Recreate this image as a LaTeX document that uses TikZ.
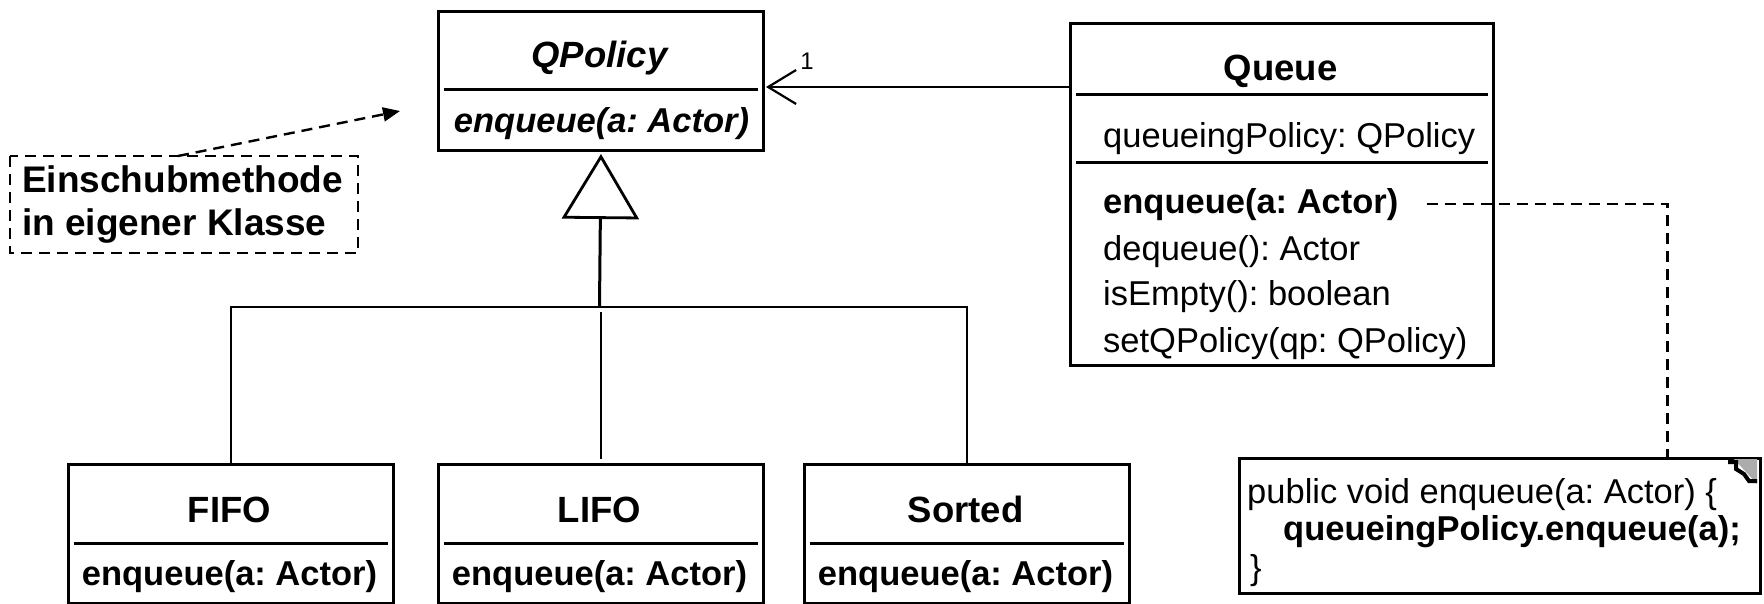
\documentclass[tikz,border=0pt]{standalone}
\usepackage{fontspec}
\setmainfont{Liberation Sans}
\usetikzlibrary{arrows.meta,calc}
\frenchspacing
\begin{document}
\begin{tikzpicture}[x=1pt,y=-1pt,
  box/.style={draw, line width=3pt, inner sep=0pt, anchor=north west},
  sepline/.style={line width=3pt},
  clsname/.style={font=\fontsize{36.5pt}{44pt}\selectfont\bfseries, anchor=base, inner sep=0pt},
  member/.style={font=\fontsize{34.5pt}{44pt}\selectfont, anchor=base west, inner sep=0pt},
  cmember/.style={font=\fontsize{34.5pt}{44pt}\selectfont\bfseries, anchor=base, inner sep=0pt},
  dashline/.style={line width=2.4pt, dash pattern=on 11pt off 7pt},
  assoc/.style={line width=2.8pt, -{Straight Barb[length=28pt,width=34pt,line width=2.2pt]}},
  inherit/.style={line width=3pt, -{Triangle[open,length=65pt,width=77pt,line width=2.8pt,fill=white]}},
  branch/.style={line width=2.4pt}
]
\useasboundingbox (0,0) rectangle (1764,603);

% abstract strategy class
\node[box, minimum width=325pt, minimum height=139pt] (qpolicy) at (437,10) {};
\draw[sepline] (444,89) -- (758,89);
\node[clsname, font=\fontsize{36.5pt}{44pt}\selectfont\bfseries\itshape] (qpolicyname) at (599.5,67) {QPolicy};
\node[cmember, font=\fontsize{34.5pt}{44pt}\selectfont\bfseries\itshape] (qpolicyop) at (601.5,132) {enqueue(a: Actor)};

% context class
\node[box, minimum width=423pt, minimum height=342pt] (queue) at (1069,22) {};
\draw[sepline] (1076,94) -- (1488,94);
\draw[sepline] (1076,162) -- (1488,162);
\node[clsname] (queuename) at (1280.5,80) {Queue};
\node[member] (qattr) at (1103,147) {queueingPolicy: QPolicy};
\node[member, font=\fontsize{34.5pt}{44pt}\selectfont\bfseries] (qenq) at (1103,213) {enqueue(a: Actor)};
\node[member] (qdeq) at (1103,260) {dequeue(): Actor};
\node[member] (qempty) at (1103,305) {isEmpty(): boolean};
\node[member] (qset) at (1103,352) {setQPolicy(qp: QPolicy)};

% concrete strategies
\node[box, minimum width=325pt, minimum height=139pt] (fifo) at (67,463) {};
\draw[sepline] (74,543) -- (388,543);
\node[clsname] (fifoname) at (229.5,522) {FIFO};
\node[cmember] (fifoop) at (229.5,585) {enqueue(a: Actor)};

\node[box, minimum width=325pt, minimum height=139pt] (lifo) at (437,463) {};
\draw[sepline] (444,543) -- (758,543);
\node[clsname] (lifoname) at (599.5,522) {LIFO};
\node[cmember] (lifoop) at (599.5,585) {enqueue(a: Actor)};

\node[box, minimum width=325pt, minimum height=139pt] (sorted) at (803,463) {};
\draw[sepline] (810,543) -- (1124,543);
\node[clsname] (sortedname) at (965.5,522) {Sorted};
\node[cmember] (sortedop) at (965.5,585) {enqueue(a: Actor)};

% generalization tree
\coordinate (bar) at (599.5,307);
\draw[branch] (fifo.north) |- (bar) -| (sorted.north);
\draw[branch, shorten <=5pt, shorten >=4pt] (lifo.north |- bar) -- (lifo.north);
\draw[inherit, shorten >=2pt] ([yshift=1pt]bar) -- (qpolicy.south);

% association with multiplicity
\coordinate (assocy) at (0,87);
\draw[assoc, shorten >=1pt] (queue.west |- assocy) -- (qpolicy.east |- assocy);
\node[font=\fontsize{24pt}{28pt}\selectfont, anchor=base, inner sep=0pt] (mult) at (807,69) {1};

% comment box
\node[box, draw=none, minimum width=345pt, minimum height=94pt] (ein) at (10,156) {};
\draw[dashline] (ein.north west) rectangle (ein.south east);
\node[font=\fontsize{37pt}{43pt}\selectfont\bfseries, anchor=base west, inner sep=0pt] (ein1) at (22,192) {Einschubmethode};
\node[font=\fontsize{37pt}{43pt}\selectfont\bfseries, anchor=base west, inner sep=0pt] (ein2) at (22,235) {in eigener Klasse};
\coordinate (eintip) at (400,111);
\draw[dashline, -{Triangle[length=17pt,width=14pt]}] ([xshift=-6pt]ein.north) -- (eintip);

% implementation note
\node[box, minimum width=521pt, minimum height=135pt] (note) at (1238,457) {};
\node[member] (note1) at (1247,503) {public void enqueue(a: Actor) \{};
\node[member, font=\fontsize{34.5pt}{44pt}\selectfont\bfseries] (note2) at (1283,540) {queueingPolicy.enqueue(a);};
\node[member] (note3) at (1250,579) {\}};
% note corner icon
\fill[gray!65] (1734,459) -- (1757,459) -- (1757,484) -- cycle;
\draw[line width=4pt] (1728,462) -- (1736,462) -- (1736,469) -- (1744,474) -- (1749,481) -- (1757,481);
\draw[dashline] ([xshift=28pt]qenq.east) -| ([xshift=167.5pt]note.north);
\end{tikzpicture}
\end{document}
